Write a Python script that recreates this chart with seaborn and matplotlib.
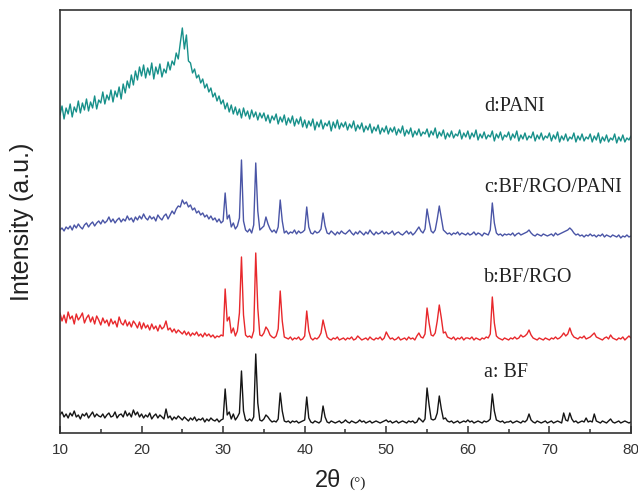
import numpy as np
import pandas as pd
import matplotlib
matplotlib.use("Agg")
import matplotlib.pyplot as plt
import seaborn as sns

# 2theta grid, 10..80 deg every 0.25 deg (281 points)
two_theta = np.linspace(10, 80, 281)

# intensities (a.u.), one row = 5 degrees (20 points)
bf = [
    18, 21, 16, 19, 15, 20, 17, 22, 16, 18, 14, 19, 17, 20, 15, 18, 21, 16, 19, 17,
    16, 19, 15, 18, 20, 16, 17, 21, 15, 18, 19, 16, 22, 17, 20, 16, 23, 18, 21, 16,
    19, 15, 18, 16, 20, 14, 17, 19, 15, 18, 16, 14, 24, 15, 17, 13, 16, 14, 17, 15,
    13, 16, 14, 12, 15, 13, 16, 12, 14, 13, 15, 11, 14, 12, 15, 13, 12, 14, 11, 13,
    14, 44, 18, 21, 14, 19, 13, 16, 20, 62, 22, 13, 12, 14, 12, 16, 79, 30, 13, 12,
    14, 18, 16, 13, 11, 12, 11, 14, 40, 22, 12, 11, 12, 10, 12, 11, 12, 10, 11, 12,
    13, 36, 15, 11, 10, 12, 11, 10, 12, 27, 16, 11, 10, 12, 11, 10, 11, 12, 10, 11,
    13, 11, 10, 12, 11, 10, 11, 13, 11, 12, 10, 11, 12, 10, 11, 12, 11, 10, 11, 12,
    13, 11, 12, 10, 11, 12, 10, 11, 12, 11, 10, 12, 11, 12, 10, 11, 15, 13, 11, 14,
    45, 28, 14, 13, 14, 20, 37, 24, 14, 15, 12, 11, 12, 10, 11, 12, 10, 11, 12, 11,
    13, 11, 12, 10, 11, 12, 11, 10, 12, 11, 12, 14, 39, 22, 13, 12, 11, 12, 10, 11,
    11, 12, 10, 11, 12, 11, 10, 12, 11, 13, 19, 13, 11, 10, 12, 11, 10, 11, 12, 10,
    11, 12, 10, 11, 12, 11, 10, 20, 13, 12, 20, 14, 11, 12, 10, 11, 12, 11, 15, 11,
    12, 11, 19, 12, 11, 10, 12, 11, 10, 12, 14, 11, 10, 11, 12, 10, 11, 12, 11, 10,
    11,
]

bf_rgo = [
    120, 112, 118, 110, 121, 114, 117, 109, 119, 113, 116, 120, 110, 115, 118, 111, 116, 109, 117, 113,
    108, 115, 110, 113, 107, 114, 109, 112, 106, 116, 110, 108, 113, 107, 111, 106, 112, 109, 105, 111,
    104, 110, 105, 108, 103, 109, 104, 107, 102, 108, 104, 106, 112, 103, 105, 101, 104, 100, 103, 101,
    99, 102, 98, 101, 97, 100, 98, 101, 97, 99, 96, 100, 97, 99, 96, 98, 95, 97, 96, 98,
    97, 144, 112, 116, 100, 105, 97, 102, 120, 176, 118, 98, 96, 97, 95, 102, 180, 125, 98, 97,
    100, 106, 103, 98, 96, 95, 97, 104, 142, 112, 96, 95, 94, 96, 93, 95, 94, 96, 93, 94,
    97, 122, 102, 95, 93, 95, 94, 96, 100, 113, 104, 96, 94, 93, 95, 94, 96, 93, 94, 95,
    93, 95, 94, 96, 93, 94, 97, 95, 93, 94, 95, 93, 96, 94, 93, 95, 94, 96, 93, 95,
    101, 97, 94, 95, 93, 94, 96, 93, 94, 95, 93, 96, 94, 95, 93, 97, 100, 96, 95, 99,
    125, 110, 98, 97, 100, 112, 128, 115, 100, 101, 96, 95, 94, 96, 93, 95, 94, 96, 93, 95,
    95, 94, 96, 93, 95, 94, 93, 95, 94, 96, 95, 99, 136, 110, 97, 95, 94, 93, 95, 94,
    93, 95, 94, 96, 94, 95, 98, 96, 97, 99, 103, 98, 95, 94, 93, 95, 94, 93, 95, 94,
    93, 95, 94, 96, 94, 95, 97, 100, 97, 99, 105, 99, 96, 95, 94, 96, 95, 97, 94, 95,
    96, 98, 100, 96, 95, 94, 93, 95, 96, 94, 98, 95, 94, 93, 95, 94, 96, 93, 95, 97,
    95,
]

bf_rgo_pani = [
    203, 205, 202, 206, 204, 207, 203, 208, 205, 209, 206, 204, 208, 210, 206, 209, 211, 207, 210, 212,
    209, 213, 210, 212, 216, 211, 214, 210, 213, 215, 211, 214, 212, 217, 213, 215, 211, 216, 213, 217,
    214, 219, 215, 213, 217, 214, 216, 212, 218, 215, 213, 217, 219, 214, 218, 222, 219, 224, 227, 226,
    233, 229, 231, 226, 228, 223, 225, 220, 222, 218, 220, 216, 218, 214, 217, 213, 215, 211, 214, 210,
    212, 240, 214, 218, 206, 210, 204, 207, 215, 273, 212, 203, 201, 204, 200, 208, 270, 222, 203, 205,
    207, 216, 209, 204, 201, 203, 200, 206, 233, 212, 200, 202, 199, 201, 200, 203, 199, 202, 200, 201,
    203, 226, 206, 200, 199, 202, 200, 201, 204, 220, 207, 200, 199, 202, 200, 198, 201, 199, 202, 200,
    199, 201, 203, 200, 198, 201, 199, 202, 200, 198, 201, 199, 203, 200, 198, 201, 199, 200, 202, 199,
    201, 199, 200, 202, 198, 200, 201, 199, 198, 200, 202, 199, 201, 198, 200, 203, 206, 202, 200, 204,
    224, 212, 202, 200, 203, 214, 227, 215, 203, 201, 199, 200, 198, 200, 199, 201, 198, 200, 199, 198,
    200, 198, 199, 201, 198, 200, 199, 197, 200, 199, 198, 203, 230, 210, 200, 198, 199, 197, 199, 198,
    199, 198, 200, 197, 199, 200, 198, 199, 200, 201, 203, 200, 198, 197, 199, 198, 197, 199, 198, 197,
    198, 199, 197, 200, 198, 199, 200, 201, 202, 203, 205, 203, 200, 198, 199, 197, 198, 196, 198, 197,
    199, 197, 198, 196, 198, 197, 199, 196, 198, 197, 196, 198, 197, 196, 198, 195, 197, 196, 198, 196,
    197,
]

pani = [
    318, 327, 314, 325, 319, 329, 316, 326, 321, 332, 320, 330, 323, 334, 322, 331, 325, 337, 324, 333,
    330, 341, 329, 338, 333, 343, 331, 342, 336, 346, 334, 349, 340, 352, 345, 358, 348, 362, 353, 366,
    357, 368, 355, 365, 358, 370, 354, 366, 359, 369, 356, 364, 360, 371, 363, 372, 368, 380, 374, 390,
    405, 384, 398, 372, 370, 360, 364, 355, 358, 350, 354, 345, 349, 341, 345, 336, 340, 332, 337, 329,
    333, 324, 330, 321, 328, 319, 326, 318, 324, 315, 325, 317, 322, 314, 323, 316, 321, 313, 320, 315,
    320, 312, 318, 310, 317, 313, 319, 309, 316, 311, 318, 308, 315, 310, 317, 307, 314, 309, 316, 306,
    313, 305, 312, 307, 314, 303, 311, 306, 313, 304, 310, 307, 312, 302, 311, 305, 313, 304, 310, 306,
    311, 303, 309, 305, 312, 302, 308, 304, 310, 301, 307, 303, 309, 300, 306, 302, 308, 299, 305, 301,
    307, 299, 305, 301, 306, 298, 304, 300, 307, 297, 303, 299, 305, 296, 302, 298, 304, 297, 301, 299,
    304, 296, 302, 298, 305, 295, 301, 297, 303, 294, 300, 296, 302, 295, 299, 297, 303, 294, 300, 296,
    302, 294, 300, 296, 303, 293, 299, 295, 301, 294, 298, 296, 302, 292, 299, 295, 301, 293, 298, 296,
    301, 293, 299, 295, 302, 292, 298, 294, 300, 293, 297, 295, 301, 292, 298, 294, 300, 293, 297, 295,
    300, 292, 298, 294, 301, 291, 297, 293, 299, 292, 296, 294, 300, 291, 297, 293, 299, 292, 296, 294,
    299, 291, 297, 293, 300, 290, 296, 292, 298, 291, 295, 293, 299, 290, 296, 292, 298, 291, 295, 293,
    297,
]

names = ["a: BF", "b:BF/RGO", "c:BF/RGO/PANI", "d:PANI"]
colors = ["#151515", "#e8282c", "#4a55a6", "#17908a"]

df = pd.DataFrame({"2theta": two_theta, names[0]: bf, names[1]: bf_rgo,
                   names[2]: bf_rgo_pani, names[3]: pani})

sns.set_style("ticks")
plt.rcParams["font.family"] = ["Liberation Sans", "DejaVu Sans"]

fig = plt.figure(figsize=(6.38, 4.94), dpi=100)
ax = fig.add_axes([0.094, 0.1235, 0.895, 0.8563])

for name, color in zip(names, colors):
    sns.lineplot(data=df, x="2theta", y=name, color=color, lw=1.0, ax=ax)

# curve labels (baseline positions in data units)
label_xy = [(62.0, 56), (62.0, 151), (62.0, 241), (62.0, 322)]
for name, (lx, ly) in zip(names, label_xy):
    ax.text(lx, ly, name, fontsize=14.5, family=["Liberation Serif", "DejaVu Serif"],
            va="baseline", ha="left", color="#222222")

ax.set_xlim(10, 80)
ax.set_ylim(0, 423)
ax.set_yticks([])
ax.set_xticks(range(10, 81, 10))
ax.set_xticks(range(15, 80, 10), minor=True)
ax.tick_params(axis="x", which="major", direction="in", length=5, width=1.1,
               labelsize=11, pad=7, colors="#333333")
ax.tick_params(axis="x", which="minor", direction="in", length=3, width=1.1, colors="#333333")
for sp in ax.spines.values():
    sp.set_linewidth(1.2)
    sp.set_color("#333333")

ax.set_xlabel("")
ax.set_ylabel("")
fig.text(22 / 638, 1 - 222 / 494, "Intensity (a.u.)", rotation=90, fontsize=18,
         ha="center", va="center", color="#222222")
fig.text(341 / 638, 1 - 487 / 494, "2θ", fontsize=17, ha="right", va="baseline", color="#222222")
fig.text(349 / 638, 1 - 487 / 494, "(°)", fontsize=11, ha="left", va="baseline",
         family=["Liberation Serif", "DejaVu Serif"], color="#222222")

fig.savefig("out.png", dpi=100)
